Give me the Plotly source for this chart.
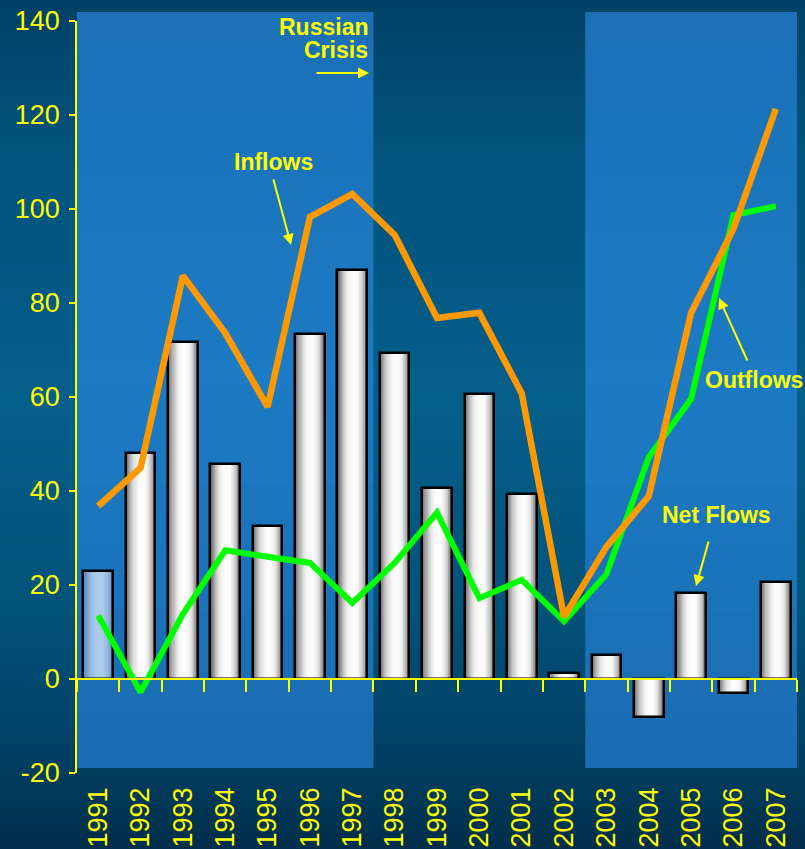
import plotly.graph_objects as go

# ---------------- data ----------------
years = ["1991", "1992", "1993", "1994", "1995", "1996", "1997", "1998", "1999",
         "2000", "2001", "2002", "2003", "2004", "2005", "2006", "2007"]
net_flows = [23.0, 48.1, 71.6, 45.7, 32.6, 73.3, 87.0, 69.3, 40.6,
             60.6, 39.4, 1.2, 5.1, -8.1, 18.3, -2.9, 20.6]
inflows = [36.8, 44.9, 85.8, 73.6, 57.9, 98.3, 103.2, 94.5, 76.8,
           77.9, 60.8, 13.2, 28.1, 38.9, 77.9, 95.8, 121.3]
outflows = [13.5, -2.8, 13.8, 27.4, 26.0, 24.7, 16.2, 24.7, 35.4,
            17.2, 21.1, 12.3, 22.3, 47.2, 59.6, 98.7, 100.6]
y_ticks = [-20, 0, 20, 40, 60, 80, 100, 120, 140]
y_tick_labels = ["-20", "0", "20", "40", "60", "80", "100", "120", "140"]
shade_periods = [("1991", "1997"), ("2003", "2007")]
highlight_years = ["1991"]

# ---------------- layout geometry / style ----------------
W, H = 805, 849
L, R, T, B = 77, 8, 21, 76
PW, PH = W - L - R, H - T - B
FONT = "Liberation Sans, Arial, sans-serif"
YEL = "#ffff00"


def hex2rgb(h):
    h = h.lstrip("#")
    return tuple(int(h[i:i + 2], 16) for i in (0, 2, 4))


def mix(c1, c2, t):
    return tuple(c1[i] + (c2[i] - c1[i]) * t for i in range(3))


def rgb(c):
    return "rgb(%d,%d,%d)" % tuple(round(v) for v in c)


def interp(stops, p):
    for (p0, c0), (p1, c1) in zip(stops, stops[1:]):
        if p0 <= p <= p1:
            return mix(hex2rgb(c0), hex2rgb(c1), (p - p0) / (p1 - p0))
    return hex2rgb(stops[-1][1]) if p > stops[-1][0] else hex2rgb(stops[0][1])


def px_x(px):
    return (px - L) / PW


def px_y(py):
    return (H - B - py) / PH


shapes = []
# page background gradient
bg_stops = [(0, "#014065"), (150, "#03537d"), (400, "#045f89"),
            (600, "#03537b"), (760, "#013f62"), (849, "#012e4a")]
step = 8
for py in range(0, H, step):
    shapes.append(dict(type="rect", xref="paper", yref="paper",
                       x0=px_x(-5), x1=px_x(W + 5),
                       y0=px_y(py + step + 0.5), y1=px_y(py - 0.5),
                       fillcolor=rgb(interp(bg_stops, py + step / 2)),
                       line=dict(width=0), layer="below"))

# shaded periods
sh_stops = [(12, "#1b6fb5"), (380, "#1c7bc4"), (768, "#1a6cb1")]
top_px, bot_px = 12, 768
n_sh = 24
for a, b in shade_periods:
    i0, i1 = years.index(a) - 0.5, years.index(b) + 0.5
    for k in range(n_sh):
        p0 = top_px + (bot_px - top_px) * k / n_sh
        p1 = top_px + (bot_px - top_px) * (k + 1) / n_sh
        shapes.append(dict(type="rect", xref="x", yref="paper",
                           x0=i0, x1=i1,
                           y0=px_y(p1 + (0.5 if k < n_sh - 1 else 0)), y1=px_y(p0),
                           fillcolor=rgb(interp(sh_stops, (p0 + p1) / 2)),
                           line=dict(width=0), layer="below"))

fig = go.Figure()

# ---------------- bars with cylinder-like gradient ----------------
bar_w = 0.7
peak = 0.56
n_layers = 14
gray_edge = (108, 108, 108)
white = (252, 252, 252)
blue_edge = (88, 135, 186)
blue_peak = (170, 204, 234)
for k in range(n_layers):
    t = k / n_layers
    left = -bar_w / 2 + t * peak * bar_w * 0.92
    right = bar_w / 2 - t * (1 - peak) * bar_w * 0.92
    s = 1 - (1 - t) ** 2.2
    cols = []
    for yr in years:
        if yr in highlight_years:
            cols.append(rgb(mix(blue_edge, blue_peak, s)))
        else:
            cols.append(rgb(mix(gray_edge, white, s)))
    fig.add_trace(go.Bar(x=years, y=net_flows, width=right - left, offset=left,
                         marker=dict(color=cols, line=dict(width=0)),
                         hoverinfo="skip", showlegend=False))

fig.add_trace(go.Bar(x=years, y=net_flows, width=bar_w, offset=-bar_w / 2,
                     marker=dict(color="rgba(0,0,0,0)",
                                 line=dict(color="#000000", width=2.5)),
                     name="Net Flows", showlegend=False))

# ---------------- lines ----------------
fig.add_trace(go.Scatter(x=years, y=outflows, mode="lines", name="Outflows",
                         line=dict(color="#00ff00", width=6), showlegend=False))
fig.add_trace(go.Scatter(x=years, y=inflows, mode="lines", name="Inflows",
                         line=dict(color="#ff9900", width=6.5), showlegend=False))

# helper trace for the zero-line axis
fig.add_trace(go.Scatter(x=list(range(len(years))), y=[0] * len(years), xaxis="x2",
                         mode="lines", line=dict(width=0, color="rgba(0,0,0,0)"),
                         hoverinfo="skip", showlegend=False))

# ---------------- annotations ----------------
ann = []


def label(text, cx, cy, xanchor="center"):
    ann.append(dict(text="<b>%s</b>" % text, xref="paper", yref="paper",
                    x=px_x(cx), y=px_y(cy), xanchor=xanchor, yanchor="middle",
                    showarrow=False, font=dict(family=FONT, size=23, color=YEL)))


def arrow(hx, hy, tx, ty):
    ann.append(dict(text="", xref="paper", yref="paper", x=px_x(hx), y=px_y(hy),
                    ax=tx - hx, ay=ty - hy, showarrow=True, arrowhead=2,
                    arrowsize=1.1, arrowwidth=2, arrowcolor=YEL))


label("Russian", 370, 27, "right")
label("Crisis", 370, 50, "right")
arrow(369, 73, 315, 73)
label("Inflows", 273, 162)
arrow(291, 245, 273, 178)
label("Outflows", 754, 380)
arrow(719, 298, 748, 362)
label("Net Flows", 716, 515)
arrow(696, 586, 709, 540)

n = len(years)
fig.update_layout(
    width=W, height=H,
    margin=dict(l=L, r=R, t=T, b=B, pad=0),
    paper_bgcolor="#014065",
    plot_bgcolor="rgba(0,0,0,0)",
    barmode="overlay",
    bargap=0,
    shapes=shapes,
    annotations=ann,
    showlegend=False,
    xaxis=dict(type="category", range=[-0.5, n - 0.5], tickangle=-90,
               tickfont=dict(family=FONT, size=27, color=YEL),
               ticks="", showline=False, showgrid=False, zeroline=False,
               automargin=False, ticklabelstandoff=8, fixedrange=True),
    xaxis2=dict(overlaying="x", anchor="free", position=20 / 160, side="bottom",
                range=[-0.5, n - 0.5], tickvals=[i - 0.5 for i in range(n + 1)],
                ticks="outside", ticklen=12, tickwidth=1.5, tickcolor=YEL,
                showline=True, linecolor=YEL, linewidth=1.5,
                showticklabels=False, showgrid=False, zeroline=False),
    yaxis=dict(range=[-20, 140], tickvals=y_ticks, ticktext=y_tick_labels,
               ticks="outside", ticklen=6,
               tickwidth=1.5, tickcolor=YEL, showline=True, linecolor=YEL,
               linewidth=1.5, tickfont=dict(family=FONT, size=27, color=YEL),
               showgrid=False, zeroline=False, automargin=False,
               ticklabelstandoff=4),
)

fig.write_html(
    "out.html",
    config={"displayModeBar": False},
    post_script="document.body.style.margin='0';document.body.style.padding='0';"
                "document.body.style.overflow='hidden';"
                "document.body.style.background='#012e4a';",
)
